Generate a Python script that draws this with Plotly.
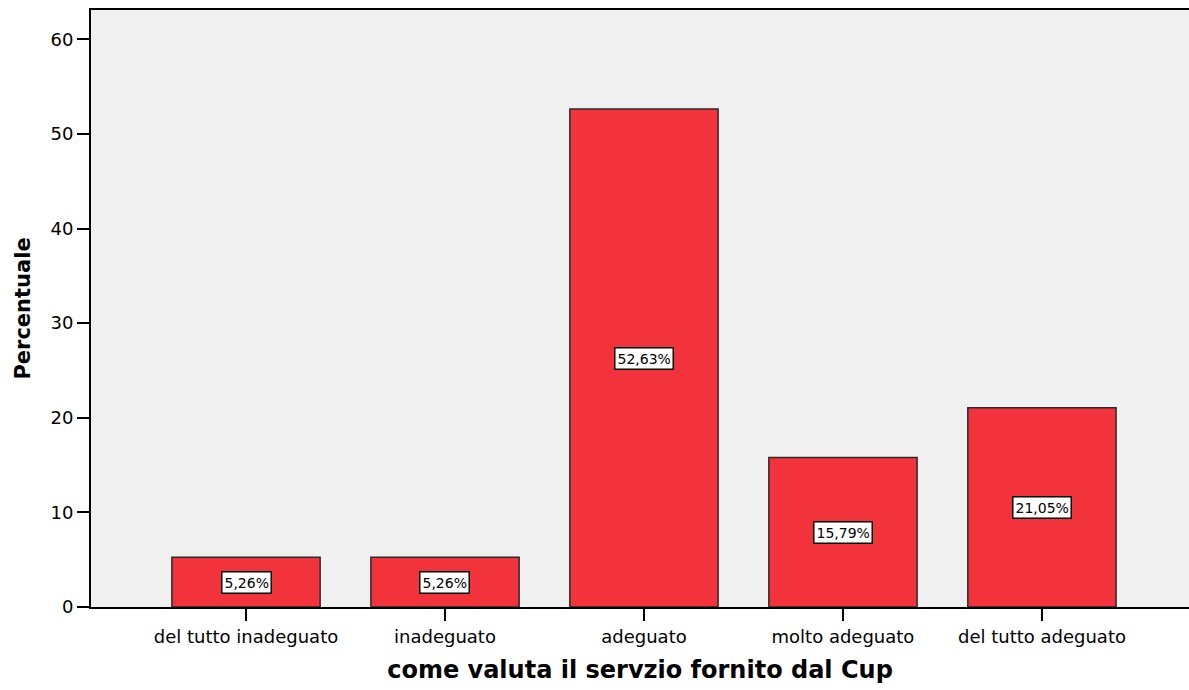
import plotly.graph_objects as go

categories = ["del tutto inadeguato", "inadeguato", "adeguato", "molto adeguato", "del tutto adeguato"]
values = [5.26, 5.26, 52.63, 15.79, 21.05]
labels = ["5,26%", "5,26%", "52,63%", "15,79%", "21,05%"]
y_ticks = [0, 10, 20, 30, 40, 50, 60]

x_idx = list(range(len(categories)))
FONT = "DejaVu Sans, Liberation Sans, Arial"

fig = go.Figure()
fig.add_trace(go.Bar(
    x=x_idx, y=values, width=0.745,
    marker=dict(color="#F2333B", line=dict(color="#2a2a2a", width=1.5)),
    hoverinfo="skip",
))

for i, (v, t) in enumerate(zip(values, labels)):
    fig.add_annotation(
        x=i, y=v / 2, text=t, showarrow=False,
        font=dict(family=FONT, size=14, color="black"),
        bgcolor="white", bordercolor="black", borderwidth=1.5, borderpad=2,
    )

fig.update_layout(
    width=1189, height=690,
    margin=dict(l=91, r=0, t=10, b=83),
    paper_bgcolor="white", plot_bgcolor="#F0F0F0",
    showlegend=False,
    font=dict(family=FONT, color="black"),
    xaxis=dict(
        range=[-0.779, 4.739],
        tickmode="array", tickvals=x_idx, ticktext=categories,
        ticks="outside", ticklen=12, tickwidth=2, tickcolor="black",
        showline=True, linecolor="black", linewidth=2, mirror=True,
        showgrid=False, zeroline=False,
        tickfont=dict(size=18, color="black"),
        title=dict(text="<b>come valuta il servzio fornito dal Cup</b>",
                   font=dict(size=24, color="black"), standoff=16),
    ),
    yaxis=dict(
        range=[0, 63.1],
        tickmode="array", tickvals=y_ticks,
        ticks="outside", ticklen=12, tickwidth=2, tickcolor="black",
        showline=True, linecolor="black", linewidth=2,
        showgrid=False, zeroline=False,
        tickfont=dict(size=18, color="black"),
        title=dict(text="<b>Percentuale</b>", font=dict(size=21, color="black"), standoff=14),
    ),
)

fig.write_html(
    "out.html",
    config={"displayModeBar": False},
    post_script="document.body.style.margin='0';document.body.style.overflow='hidden';",
)
